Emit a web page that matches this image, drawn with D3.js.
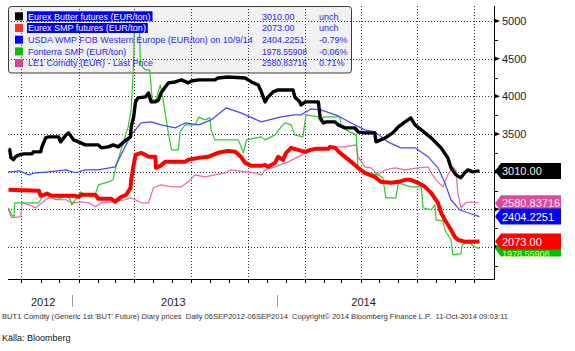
<!DOCTYPE html>
<html><head><meta charset="utf-8">
<script src="https://cdn.jsdelivr.net/npm/d3@7"></script>
<style>body{margin:0;background:#fff}svg{display:block;font-family:"Liberation Sans",Arial,sans-serif}</style>
</head><body><svg id="c" width="575" height="351"></svg>
<script>
// ---------- DATA ----------
const butter = [["2012-09-10",3300],["2012-09-12",3290],["2012-09-14",3185],["2012-09-18",3160],["2012-09-21",3195],["2012-09-25",3215],["2012-09-28",3225],["2012-10-05",3236],["2012-10-18",3236],["2012-10-20",3263],["2012-11-01",3263],["2012-11-03",3329],["2012-11-09",3449],["2012-11-14",3462],["2012-11-30",3462],["2012-12-03",3396],["2012-12-12",3488],["2012-12-16",3515],["2012-12-24",3422],["2013-01-01",3396],["2013-01-12",3356],["2013-02-02",3356],["2013-02-07",3316],["2013-02-18",3329],["2013-02-26",3356],["2013-03-06",3329],["2013-03-19",3422],["2013-03-26",3462],["2013-03-27",3594],["2013-03-31",3727],["2013-04-03",3926],["2013-04-07",3979],["2013-04-19",3992],["2013-04-24",4045],["2013-04-28",3926],["2013-05-05",3926],["2013-05-10",3952],["2013-05-14",4045],["2013-05-21",4125],["2013-05-26",4178],["2013-06-06",4191],["2013-06-16",4218],["2013-06-27",4178],["2013-07-02",4204],["2013-07-14",4218],["2013-08-09",4218],["2013-08-14",4244],["2013-08-30",4257],["2013-09-27",4244],["2013-10-07",4191],["2013-10-18",4151],["2013-10-23",4059],["2013-10-29",3926],["2013-11-03",3992],["2013-11-11",4059],["2013-11-19",4085],["2013-12-13",4085],["2013-12-16",3992],["2013-12-24",3926],["2013-12-26",3886],["2014-01-02",3926],["2014-01-23",3926],["2014-01-26",3714],["2014-01-31",3647],["2014-02-05",3661],["2014-02-19",3661],["2014-02-24",3621],["2014-03-07",3581],["2014-03-23",3581],["2014-03-28",3528],["2014-04-08",3515],["2014-04-24",3515],["2014-04-26",3396],["2014-05-11",3449],["2014-05-23",3515],["2014-06-01",3594],["2014-06-12",3661],["2014-06-21",3714],["2014-06-28",3621],["2014-07-08",3555],["2014-07-24",3449],["2014-08-09",3316],["2014-08-20",3183],["2014-08-25",3051],["2014-09-02",2958],["2014-09-10",2918],["2014-09-16",2985],["2014-09-21",3024],["2014-09-29",2998],["2014-10-10",3010]];

const smp = [["2012-09-10",2760],["2012-10-29",2746],["2012-11-01",2680],["2012-11-11",2706],["2012-11-19",2680],["2012-12-27",2680],["2013-01-01",2666],["2013-01-06",2693],["2013-01-28",2693],["2013-02-02",2640],["2013-02-23",2640],["2013-03-01",2600],["2013-03-11",2666],["2013-03-19",2693],["2013-03-26",2786],["2013-03-27",2892],["2013-03-31",3091],["2013-04-03",3223],["2013-04-12",3250],["2013-04-19",3223],["2013-04-24",3197],["2013-05-05",3197],["2013-05-06",3051],["2013-05-13",3077],["2013-05-21",3130],["2013-06-22",3130],["2013-06-27",3157],["2013-07-14",3183],["2013-07-29",3197],["2013-08-14",3250],["2013-08-30",3276],["2013-09-11",3263],["2013-09-20",3197],["2013-09-27",3117],["2013-10-07",3077],["2013-10-23",3077],["2013-10-29",3091],["2013-11-03",3064],["2013-11-14",3117],["2013-11-19",3197],["2013-11-27",3157],["2013-12-02",3250],["2013-12-10",3316],["2013-12-21",3289],["2014-01-02",3263],["2014-01-10",3289],["2014-01-18",3303],["2014-02-08",3303],["2014-02-11",3329],["2014-02-19",3316],["2014-02-27",3250],["2014-03-07",3197],["2014-03-17",3130],["2014-03-28",3051],["2014-04-08",2985],["2014-04-24",2932],["2014-05-04",2865],["2014-05-20",2852],["2014-06-01",2865],["2014-06-12",2892],["2014-06-21",2892],["2014-07-03",2852],["2014-07-14",2799],["2014-07-24",2719],["2014-08-04",2587],["2014-08-09",2454],["2014-08-15",2361],["2014-08-20",2295],["2014-08-25",2229],["2014-08-31",2136],["2014-09-05",2096],["2014-09-16",2070],["2014-09-26",2070],["2014-10-10",2073]];

const usda = [["2012-09-10",3000],["2012-09-14",2998],["2012-09-27",3011],["2012-10-13",2958],["2012-10-24",2985],["2012-11-14",2998],["2012-12-12",3024],["2012-12-27",2985],["2013-01-12",3024],["2013-02-02",3024],["2013-03-01",3064],["2013-03-17",3329],["2013-03-27",3488],["2013-04-12",3647],["2013-04-28",3661],["2013-05-14",3621],["2013-06-06",3581],["2013-06-22",3647],["2013-07-14",3621],["2013-08-03",3687],["2013-08-27",3846],["2013-09-20",3780],["2013-10-23",3661],["2013-11-24",3727],["2013-12-16",3754],["2013-12-26",3754],["2014-01-11",3833],["2014-01-27",3820],["2014-02-24",3740],["2014-03-17",3647],["2014-04-08",3555],["2014-04-24",3528],["2014-05-15",3396],["2014-06-05",3316],["2014-06-28",3316],["2014-07-19",3197],["2014-08-04",3051],["2014-08-15",2852],["2014-08-25",2627],["2014-09-08",2494],["2014-09-21",2454],["2014-10-10",2404]];

const fonterra = [["2012-09-10",2520],["2012-09-15",2427],["2012-09-19",2401],["2012-09-20",2587],["2012-10-29",2587],["2012-11-03",2653],["2012-11-11",2733],["2012-11-19",2693],["2012-11-25",2627],["2012-12-05",2653],["2012-12-12",2693],["2012-12-19",2627],["2012-12-21",2560],["2012-12-29",2653],["2013-01-04",2733],["2013-01-12",2693],["2013-01-20",2666],["2013-01-28",2693],["2013-02-02",2825],["2013-02-18",2865],["2013-02-26",2892],["2013-03-01",3024],["2013-03-14",3382],["2013-03-22",3594],["2013-03-27",3820],["2013-03-31",4480],["2013-04-01",4920],["2013-04-09",4920],["2013-04-11",4417],["2013-04-19",4350],["2013-04-26",4350],["2013-04-30",3952],["2013-05-06",3952],["2013-05-13",4151],["2013-05-18",3926],["2013-05-26",3515],["2013-05-31",3289],["2013-06-11",3289],["2013-06-14",3528],["2013-06-22",3621],["2013-07-08",3621],["2013-07-14",3727],["2013-07-24",3687],["2013-08-01",3714],["2013-08-03",3555],["2013-08-09",3422],["2013-09-16",3422],["2013-09-24",3250],["2013-09-29",3422],["2013-10-23",3462],["2013-10-29",3422],["2013-11-14",3488],["2013-11-24",3594],["2013-11-30",3647],["2013-12-10",3621],["2013-12-16",3488],["2013-12-29",3462],["2014-01-03",3754],["2014-01-23",3727],["2014-01-27",3661],["2014-01-31",3727],["2014-02-27",3727],["2014-03-01",3594],["2014-03-15",3528],["2014-03-25",3488],["2014-03-28",3051],["2014-04-10",2985],["2014-04-29",2958],["2014-05-07",2918],["2014-05-12",2653],["2014-05-28",2653],["2014-06-01",2852],["2014-06-21",2799],["2014-07-08",2799],["2014-07-11",2520],["2014-07-24",2494],["2014-07-30",2560],["2014-08-01",2361],["2014-08-12",2348],["2014-08-15",2229],["2014-08-25",2096],["2014-08-28",1900],["2014-09-10",1910],["2014-09-12",2030],["2014-09-21",2060],["2014-09-23",2096],["2014-09-26",2040],["2014-10-02",2003],["2014-10-10",1979]];

const le1 = [["2012-09-10",2494],["2012-09-15",2388],["2012-09-27",2401],["2012-09-30",2414],["2012-10-02",2587],["2012-10-13",2560],["2012-10-24",2520],["2012-11-03",2587],["2012-11-14",2653],["2012-11-27",2627],["2012-12-12",2627],["2012-12-21",2587],["2013-01-06",2600],["2013-01-17",2587],["2013-01-28",2534],["2013-02-07",2587],["2013-03-01",2600],["2013-03-17",2627],["2013-03-27",2653],["2013-04-12",2587],["2013-04-24",2587],["2013-05-02",2786],["2013-05-14",2825],["2013-05-31",2799],["2013-06-16",2799],["2013-06-27",2865],["2013-07-08",2958],["2013-07-24",2932],["2013-08-09",2958],["2013-08-26",2985],["2013-09-04",3024],["2013-09-27",2998],["2013-10-13",2985],["2013-10-23",2958],["2013-10-29",3024],["2013-11-14",3064],["2013-12-05",3130],["2013-12-18",3183],["2014-01-06",3263],["2014-01-23",3303],["2014-02-08",3316],["2014-02-24",3329],["2014-03-07",3329],["2014-03-25",3356],["2014-03-28",3197],["2014-04-08",3064],["2014-04-18",3051],["2014-04-29",2958],["2014-05-11",3024],["2014-05-27",3051],["2014-06-12",3024],["2014-07-03",3051],["2014-07-19",3064],["2014-07-24",2985],["2014-08-01",2892],["2014-08-12",2799],["2014-08-20",2958],["2014-08-28",3064],["2014-09-02",3024],["2014-09-05",2719],["2014-09-10",2520],["2014-09-18",2587],["2014-09-26",2600],["2014-10-10",2581]];

const legendNames = ["Eurex Butter futures (EUR/ton)","Eurex SMP futures (EUR/ton)","USDA WMP FOB Western Europe (EUR/ton) on 10/9/14","Fonterra SMP (EUR/ton)","LE1 Comdty (EUR) - Last Price"];
const legendValues = ["3010.00","2073.00","2404.2251","1978.55908","2580.83716"];
const legendChanges = ["unch","unch","-0.79%","-0.06%","0.71%"];
const lastValues = [3010.00, 2073.00, 2404.2251, 1978.55908, 2580.83716];
const yMajorTicks = [2000,2500,3000,3500,4000,4500,5000];
const yMinorTicks = [1750,2250,2750,3250,3750,4250,4750];
const yearLabels = [["2012","2012-11-05"],["2013","2013-06-03"],["2014","2014-04-06"]];
const yearBreaks = ["2012-12-22","2013-11-18"];
const domainDates = ["2012-09-06","2014-10-10"];
const footnote = "BUT1 Comdty (Generic 1st 'BUT' Future) Diary prices  Daily 06SEP2012-06SEP2014  Copyright\u00A9 2014 Bloomberg Finance L.P.  11-Oct-2014 09:03:11";
const source = "K\u00E4lla: Bloomberg";

// ---------- STYLE ----------
const lineColors = ["#000000","#ff0000","#4646ff","#30c830","#e66aae"];
const lineWidths = [3.4,4,1.2,1.2,1.2];
const swatchColors = ["#000000","#ff3030","#0000ff","#00c000","#dc3f95"];
const tagFill = ["#000000","#ff0000","#0000ff","#00c000","#dc4a9c"];
const tagText = ["#f0f0f0","#ffffff","#ffffff","#e8ff80","#ffe8f4"];

const parse = d3.timeParse("%Y-%m-%d");
const series = [butter, smp, usda, fonterra, le1].map(s => s.map(([d,v]) => ({date: parse(d), value: v})));

const svg = d3.select("#c");
const X0 = 8, AX = 494, TOP = 6, BOT = 279;
const x = d3.scaleTime().domain(domainDates.map(parse)).range([6, 479.5]);
const y = d3.scaleLinear().domain([2000, 5000]).range([247, 21]);

// legend background
const LG = {x: 8.5, y: 6.5, w: 343, h: 66.5};
svg.append("rect").attr("x", LG.x).attr("y", LG.y).attr("width", LG.w).attr("height", LG.h)
  .attr("rx", 3).attr("fill", "#f1f1f1").attr("stroke", "#3a3a3a").attr("stroke-width", 1);

// grid
const grid = svg.append("g").attr("stroke", "#333").attr("stroke-width", 1).attr("stroke-dasharray", "1,2");
yMajorTicks.forEach(v => grid.append("line").attr("x1", X0).attr("x2", AX).attr("y1", Math.round(y(v))+0.5).attr("y2", Math.round(y(v))+0.5));
const qTicks = d3.timeMonth.every(3).range(parse("2012-10-01"), parse("2014-10-05"));
qTicks.forEach(t => grid.append("line").attr("x1", Math.round(x(t))+0.5).attr("x2", Math.round(x(t))+0.5).attr("y1", TOP).attr("y2", BOT));

// lines (draw from last to first)
const line = d3.line().x(d => x(d.date)).y(d => y(d.value));
[4,3,2,1,0].forEach(i => {
  svg.append("path").datum(series[i]).attr("d", line).attr("fill", "none")
    .attr("stroke", lineColors[i]).attr("stroke-width", lineWidths[i]).attr("stroke-linejoin", "round");
});

// legend content
function fit(t, maxW) {
  const w = t.node().getComputedTextLength();
  if (w > maxW) t.attr("textLength", maxW).attr("lengthAdjust", "spacingAndGlyphs");
  return Math.min(w, maxW);
}
legendNames.forEach((n, i) => {
  const cy = 16.3 + i * 11.7;
  svg.append("rect").attr("x", 15).attr("y", cy - 4).attr("width", 8).attr("height", 8).attr("fill", swatchColors[i]);
  const t = svg.append("text").attr("x", 28).attr("y", cy + 3.2).attr("font-size", 9).attr("fill", i < 2 ? "#fff" : "#1d1dff").text(n);
  const w = fit(t, 227);
  if (i < 2) {
    svg.insert("rect", () => t.node()).attr("x", 27).attr("y", cy - 5).attr("width", w + 3).attr("height", 10).attr("fill", "#0000f0");
  }
  const tv = svg.append("text").attr("x", 262).attr("y", cy + 3.2).attr("font-size", 9).attr("fill", "#1d1dff").text(legendValues[i]);
  fit(tv, 45);
  svg.append("text").attr("x", 319).attr("y", cy + 3.2).attr("font-size", 9).attr("fill", "#1d1dff").text(legendChanges[i]);
});

// axes
svg.append("line").attr("x1", AX+0.5).attr("x2", AX+0.5).attr("y1", TOP).attr("y2", BOT+1).attr("stroke", "#000");
svg.append("line").attr("x1", X0).attr("x2", AX+1).attr("y1", BOT+0.5).attr("y2", BOT+0.5).attr("stroke", "#000");
const mTicks = d3.timeMonth.every(1).range(parse("2012-10-01"), parse("2014-10-05"));
mTicks.forEach(t => svg.append("line").attr("x1", Math.round(x(t))+0.5).attr("x2", Math.round(x(t))+0.5).attr("y1", BOT).attr("y2", BOT+4).attr("stroke", "#000"));
yMinorTicks.forEach(v => svg.append("line").attr("x1", AX).attr("x2", AX+4).attr("y1", Math.round(y(v))+0.5).attr("y2", Math.round(y(v))+0.5).attr("stroke", "#000"));
const tagYs = lastValues.map(v => y(v));
yMajorTicks.forEach(v => {
  const yy = y(v);
  svg.append("path").attr("d", `M${AX},${yy-2.5}L${AX+6},${yy}L${AX},${yy+2.5}Z`).attr("fill", "#000");
  // labels hidden behind a value tag are not drawn (as in the reference)
  if (tagYs.some(ty => Math.abs(ty - yy) < 14)) return;
  svg.append("text").attr("x", 502).attr("y", yy + 4).attr("font-size", 11).attr("fill", "#222").text(v);
});

// value tags
[3,1,4,2,0].forEach(i => {
  const cy = tagYs[i];
  svg.append("path").attr("d", `M${AX+1},${cy}L${AX+7},${cy-8}L561,${cy-8}L561,${cy+8}L${AX+7},${cy+8}Z`)
    .attr("fill", tagFill[i]);
  const t = svg.append("text").attr("x", 502).attr("y", cy + 4).attr("font-size", 11).attr("fill", tagText[i]).text(legendValues[i]);
  if (i === 3) t.attr("y", cy + 8).attr("font-size", 9);
});

// year labels
yearLabels.forEach(([l, d]) => svg.append("text").attr("x", x(parse(d))).attr("y", 306).attr("text-anchor", "middle").attr("font-size", 11).attr("fill", "#222").text(l));
yearBreaks.forEach(d => svg.append("line").attr("x1", Math.round(x(parse(d)))+0.5).attr("x2", Math.round(x(parse(d)))+0.5).attr("y1", 295).attr("y2", 307).attr("stroke", "#999"));

svg.append("text").attr("x", 2).attr("y", 318.5).attr("font-size", 7).attr("fill", "#333").style("white-space", "pre")
  .attr("textLength", 506).attr("lengthAdjust", "spacingAndGlyphs").text(footnote);
svg.append("text").attr("x", 2).attr("y", 341).attr("font-size", 9).attr("fill", "#111").text(source);
</script></body></html>
